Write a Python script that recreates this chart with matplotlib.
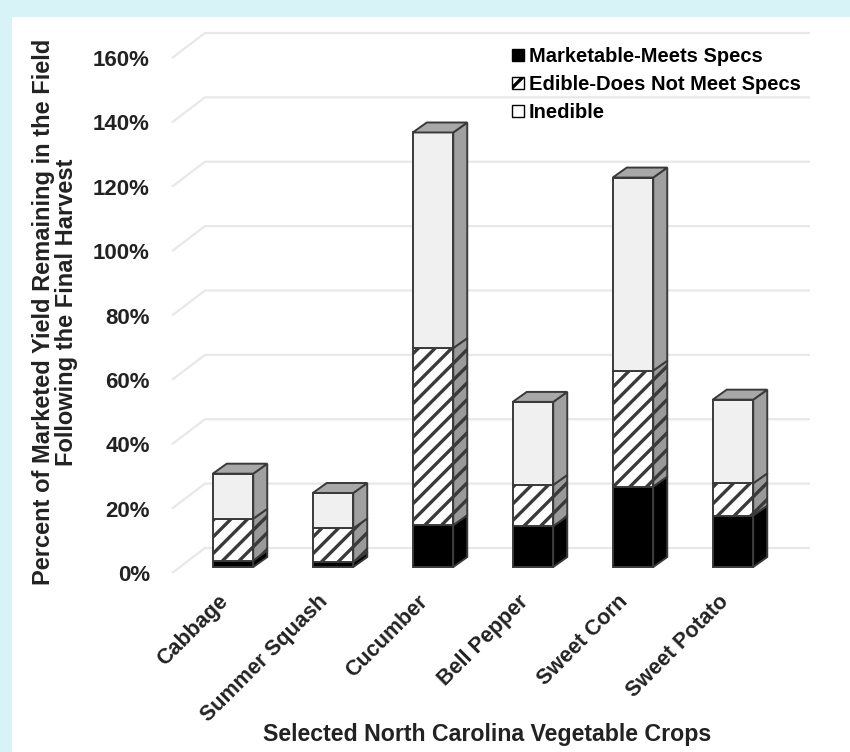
import matplotlib.pyplot as plt
from matplotlib.patches import Polygon, Rectangle, Patch

crops = ["Cabbage", "Summer Squash", "Cucumber", "Bell Pepper", "Sweet Corn", "Sweet Potato"]
marketable = [2, 1.5, 13, 12.7, 25, 16]
edible = [13, 10.5, 55, 12.8, 36, 10]
inedible = [14, 11, 67, 25.8, 60, 26]
yticks = [0, 20, 40, 60, 80, 100, 120, 140, 160]
series = ["Marketable-Meets Specs", "Edible-Does Not Meet Specs", "Inedible"]

plt.rcParams["font.family"] = ["Liberation Sans", "DejaVu Sans"]
plt.rcParams["font.weight"] = "bold"
plt.rcParams["hatch.linewidth"] = 2.4

fig = plt.figure(figsize=(8.5, 7.52), dpi=100)
fig.patch.set_facecolor("#d8f3f8")
# white panel
fig.add_artist(Rectangle((12 / 850, 0), 1, 1 - 17 / 752, transform=fig.transFigure,
                         facecolor="white", edgecolor="none", zorder=0))

ax = fig.add_axes([172 / 850, 179 / 752, 605 / 850, 515 / 752])
ax.set_xlim(-0.53, 5.52)
ax.set_ylim(0, 160)
ax.patch.set_alpha(0)
for s in ax.spines.values():
    s.set_visible(False)

# depth of the box (wall) and of each bar, in data units
wall_dx, wall_dy = 0.33, 7.77
bar_off_x, bar_off_y = 0.08, 1.86
bar_dx, bar_dy = 0.14, 3.1
bar_w = 0.405

# back wall / side wall gridlines
for t in yticks:
    ax.plot([-0.53, -0.53 + wall_dx, 5.52 + wall_dx], [t, t + wall_dy, t + wall_dy],
            color="#e8e8e8", lw=1.6, zorder=1, clip_on=False, solid_capstyle="butt")

edge = "#3a3a3a"
faces = [
    dict(front="black", side="black", hatch=None),
    dict(front="white", side="#9a9a9a", hatch="//"),
    dict(front="#f0f0f0", side="#a0a0a0", hatch=None),
]

for i in range(len(crops)):
    vals = [marketable[i], edible[i], inedible[i]]
    x0 = i - bar_w / 2 + bar_off_x
    x1 = x0 + bar_w
    bottom = bar_off_y
    for k, v in enumerate(vals):
        top = bottom + v
        f = faces[k]
        ax.add_patch(Rectangle((x0, bottom), bar_w, v, facecolor=f["front"], edgecolor=edge,
                               hatch=f["hatch"], lw=1.4, zorder=3, clip_on=False))
        ax.add_patch(Polygon([(x1, bottom), (x1 + bar_dx, bottom + bar_dy),
                              (x1 + bar_dx, top + bar_dy), (x1, top)],
                             facecolor=f["side"], edgecolor=edge, hatch=f["hatch"],
                             lw=1.4, zorder=3, clip_on=False))
        bottom = top
    ax.add_patch(Polygon([(x0, bottom), (x0 + bar_dx, bottom + bar_dy),
                          (x1 + bar_dx, bottom + bar_dy), (x1, bottom)],
                         facecolor="#a8a8a8", edgecolor=edge, lw=1.4, zorder=3, clip_on=False))

ax.set_yticks(yticks)
ax.set_yticklabels([f"{t}%" for t in yticks], fontsize=16, fontweight="bold", color="#222222")
ax.tick_params(axis="y", length=0, pad=16)
ax.set_xticks([])
for i, c in enumerate(crops):
    ax.text(i + 0.0, -8, c, rotation=45, rotation_mode="anchor", ha="right", va="center",
            fontsize=15.5, fontweight="bold", color="#222222", clip_on=False)

fig.text(487 / 850, 1 - 735 / 752, "Selected North Carolina Vegetable Crops", ha="center",
         va="center", fontsize=16.7, fontweight="bold", color="#222222")
fig.text(55 / 850, 1 - 312 / 752, "Percent of Marketed Yield Remaining in the Field\nFollowing the Final Harvest",
         rotation=90, ha="center", va="center", fontsize=17, fontweight="bold",
         color="#222222", linespacing=0.95)

handles = [Patch(facecolor="black", edgecolor="black", lw=1),
           Patch(facecolor="white", edgecolor="black", hatch="//", lw=1),
           Patch(facecolor="white", edgecolor="black", lw=1)]
fig.legend(handles, series, loc="upper left", bbox_to_anchor=(512 / 850, 1 - 47 / 752),
           frameon=False, fontsize=14.5, handlelength=0.6, handleheight=0.6,
           handletextpad=0.25, labelspacing=0.45, borderaxespad=0, borderpad=0)

fig.savefig("out.png", dpi=100, facecolor=fig.get_facecolor())
